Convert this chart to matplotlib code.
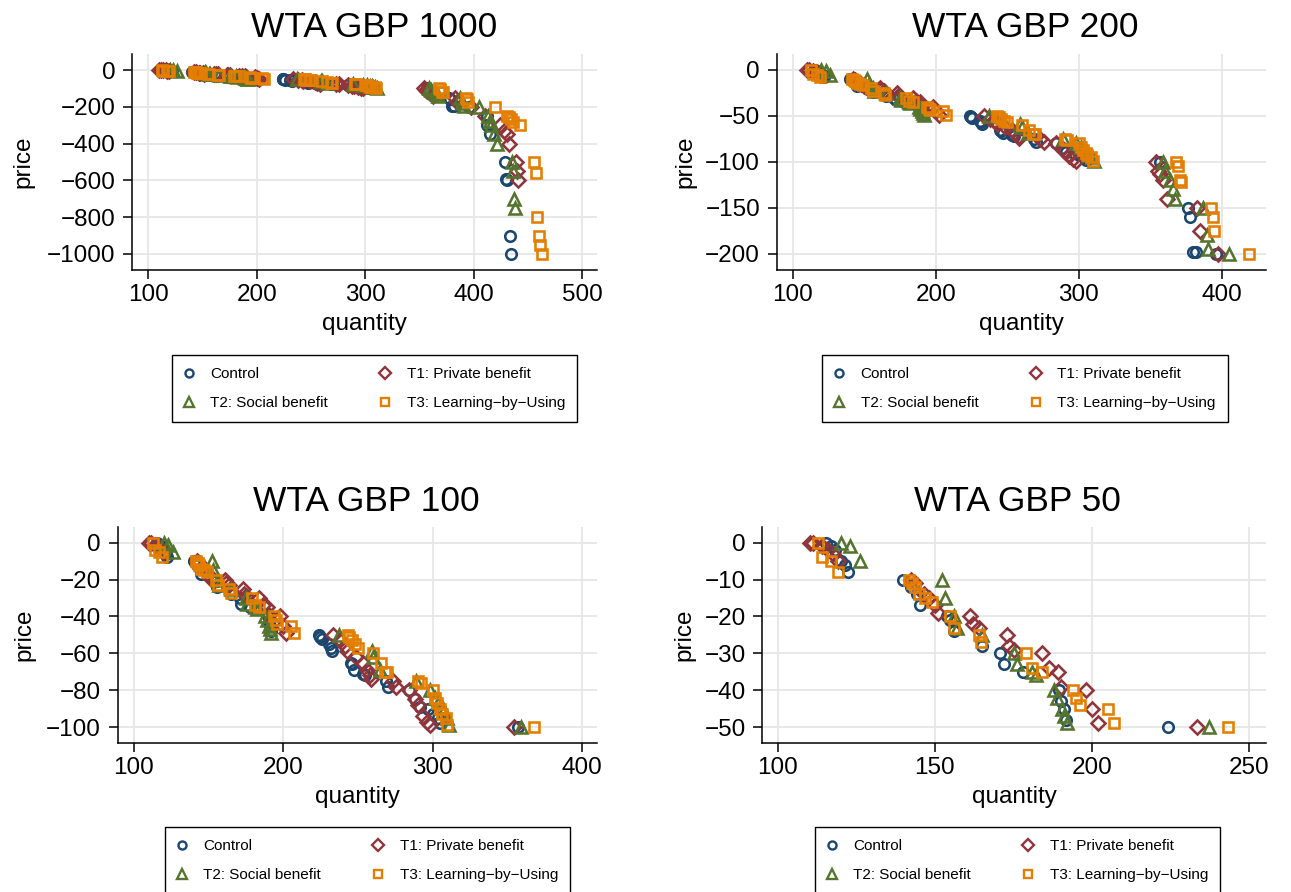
import matplotlib
matplotlib.use("Agg")
import numpy as np
import matplotlib.pyplot as plt
from matplotlib.lines import Line2D

plt.rcParams['font.family'] = ['Liberation Sans', 'DejaVu Sans']
plt.rcParams['axes.unicode_minus'] = True

# ---- supply points (quantity, price) per treatment group ----
control_qty = [115.3, 117, 118.2, 120, 121.4, 122.2, 140, 142.5, 144.2, 145.1, 153.8, 154.8,
               156, 165, 170.8, 172, 177.9, 189.5, 190.2, 191, 191.8, 224, 224.6, 225.7,
               230.8, 231.9, 232.4, 245, 246, 247, 253.6, 254.7, 268.7, 270.3, 284.3, 288,
               291.4, 297, 300.4, 303.7, 304.8, 357, 376.7, 378, 380, 381.8, 396, 412,
               412.5, 415, 429, 430, 431, 433, 434]
control_price = [0, -1, -2, -5, -6, -8, -10, -12, -14, -17, -20, -21,
                 -24, -28, -30, -33, -35, -40, -43, -45, -48, -50, -51, -52,
                 -55, -57, -59, -65, -66, -69, -71, -72, -75, -78, -80, -85,
                 -89, -90, -93, -95, -98, -100, -150, -160, -198, -198, -200, -250,
                 -300, -350, -500, -595, -600, -900, -1000]

t1_qty = [110.3, 111.3, 114, 116, 117.5, 119.3, 142.3, 143.6, 146.5, 148, 150, 151,
          161, 162, 164, 173, 173.7, 175, 184, 186.4, 189, 190.2, 198, 200, 202,
          233.5, 238, 241.3, 242.9, 248.6, 253.6, 255.8, 258, 258.5, 273.2, 275.4,
          284.3, 288.1, 290, 293.2, 295.9, 298.1, 354.3, 355.5, 357, 359, 362,
          382.5, 384.6, 397.6, 410, 424, 428, 431, 432, 439, 440, 441]
t1_price = [0, 0, -1, -2, -3, -5, -10, -11, -14, -15, -17, -19,
            -20, -22, -23, -25, -28, -29, -30, -34, -35, -39, -40, -45, -49,
            -50, -53, -56, -59, -62, -65, -69, -72, -74, -75, -78,
            -80, -85, -88, -94, -97, -99, -100, -110, -113, -120, -140,
            -150, -175, -200, -250, -300, -330, -350, -400, -500, -550, -600]

t2_qty = [120.1, 123, 126.2, 152.2, 153.2, 156.2, 156.9, 165, 175.2, 176, 181, 182.2,
          188, 188.8, 190.3, 190.9, 191.9, 237.2, 259.1, 260.2, 264.7, 288.8, 298.1,
          301.5, 304.4, 305.9, 307, 309.3, 311, 358.9, 360.5, 363.8, 366.3, 367.2,
          387.1, 389.4, 390.7, 404.8, 413, 415, 416, 419, 421, 435, 436, 437, 438]
t2_price = [0, -1, -5, -10, -15, -20, -23, -25, -30, -33, -35, -36,
            -40, -42, -45, -47, -49, -50, -59, -62, -69, -75, -80,
            -84, -86, -89, -92, -95, -99, -100, -110, -120, -130, -140,
            -150, -180, -195, -200, -250, -275, -300, -350, -400, -500, -550, -700, -750]

t3_qty = [112.9, 114, 117, 119.1, 141.8, 142.8, 143.7, 144.8, 146.9, 149, 154.8, 156.2,
          164, 164.8, 179, 181, 184, 194, 195, 196, 205, 207, 243.2, 244.2, 245.8, 248,
          250.2, 260.2, 265.1, 268, 269.6, 290.3, 291.9, 300.4, 301.5, 303, 304.8,
          305.9, 308.8, 309.7, 367.8, 369.3, 370.8, 371.3, 392.6, 393.7, 394.6, 419.3,
          431, 432, 434, 436, 443, 455.5, 457, 458.5, 460.4, 461, 463]
t3_price = [0, -4, -5, -8, -10, -11, -12, -14, -15, -16, -20, -23,
            -25, -27, -30, -34, -35, -40, -42, -44, -45, -49, -50, -51, -53, -55,
            -57, -60, -65, -70, -70, -75, -76, -80, -84, -87, -90,
            -93, -95, -99, -100, -105, -120, -122, -150, -160, -175, -200,
            -250, -255, -265, -280, -300, -500, -560, -800, -900, -950, -1000]

group_labels = ["Control", "T1: Private benefit", "T2: Social benefit",
                "T3: Learning\u2212by\u2212Using"]
group_data = [(control_qty, control_price), (t1_qty, t1_price),
              (t2_qty, t2_price), (t3_qty, t3_price)]

# WTA caps shown in each panel
wta_caps = [1000, 200, 100, 50]

# ---- styling ----
colors = ["#1a476f", "#90353b", "#55752f", "#e37e00"]
markers = ["o", "D", "^", "s"]
msizes = [7.6, 6.8, 8.8, 7.0]
leg_msizes = [5.8, 6.4, 7.0, 5.8]
MEW = 1.85

W, H = 1291, 892
fig = plt.figure(figsize=(W / 100, H / 100), dpi=100)

# pixel boxes (left, top, right, bottom) of each plot region
boxes = [(132.3, 54, 597.3, 270), (776.7, 54, 1265.7, 270),
         (117.7, 526.7, 597.3, 743.3), (762.3, 526.7, 1265.7, 743.3)]
xlims = [(85.3, 513.8), (88.8, 430.8), (89.3, 410.0), (95.1, 255.2)]
ylims = [(-1087, 87), (-217.7, 17.4), (-108.8, 8.7), (-54.4, 4.35)]
xticks = [np.arange(100, 501, 100), np.arange(100, 401, 100),
          np.arange(100, 401, 100), np.arange(100, 251, 50)]
yticks = [np.arange(0, -1001, -200), np.arange(0, -201, -50),
          np.arange(0, -101, -20), np.arange(0, -51, -10)]
title_pos = [(374.5, 37), (1025, 37), (366.5, 511), (1017.5, 511)]
ylabel_x = [-0.21, -0.165, -0.172, -0.132]
legend_pos = [(374.5, 355), (1025, 355), (367.5, 827), (1017.5, 827)]

for i, cap in enumerate(wta_caps):
    l, t, r, b = boxes[i]
    ax = fig.add_axes([l / W, 1 - b / H, (r - l) / W, (b - t) / H])
    for (qty, price), c, m, ms in zip(group_data, colors, markers, msizes):
        q = np.asarray(qty, dtype=float)
        p = np.asarray(price, dtype=float)
        keep = p >= -cap
        ax.plot(q[keep], p[keep], ls="none", marker=m, ms=ms, mfc="none",
                mec=c, mew=MEW, zorder=3)
    ax.set_xlim(*xlims[i])
    ax.set_ylim(*ylims[i])
    ax.set_xticks(xticks[i])
    ax.set_yticks(yticks[i])
    ax.grid(True, color="#e6e6e6", lw=1.3, zorder=0)
    ax.set_axisbelow(True)
    for s in ("top", "right"):
        ax.spines[s].set_visible(False)
    for s in ("left", "bottom"):
        ax.spines[s].set_linewidth(1.1)
    ax.tick_params(axis="both", direction="out", length=6.5, width=1.1,
                   labelsize=17.5, colors="black")
    ax.tick_params(axis="x", pad=3.5)
    ax.tick_params(axis="y", pad=5.5)
    ax.set_xlabel("quantity", fontsize=17.5, va="baseline")
    ax.xaxis.set_label_coords(0.5, -(330 - 270) / 216)
    ax.set_ylabel("price", fontsize=17.5)
    ax.yaxis.set_label_coords(ylabel_x[i], 0.5)

    tx, ty = title_pos[i]
    fig.text(tx / W, 1 - ty / H, f"WTA GBP {cap}", fontsize=25.5,
             ha="center", va="baseline")

    handles = [Line2D([], [], ls="none", marker=m, ms=lms, mfc="none",
                      mec=c, mew=1.7)
               for c, m, lms in zip(colors, markers, leg_msizes)]
    order = [0, 2, 1, 3]
    lx, ly = legend_pos[i]
    leg = fig.legend([handles[k] for k in order], [group_labels[k] for k in order],
                     loc="upper center", bbox_to_anchor=(lx / W, 1 - ly / H),
                     ncol=2, fontsize=11, frameon=True, fancybox=False,
                     edgecolor="black", framealpha=1, handlelength=0.6,
                     handletextpad=1.1, columnspacing=3.45, borderpad=0.8,
                     labelspacing=0.97, borderaxespad=0)
    leg.get_frame().set_linewidth(1.0)

fig.savefig("out.png", dpi=100)
